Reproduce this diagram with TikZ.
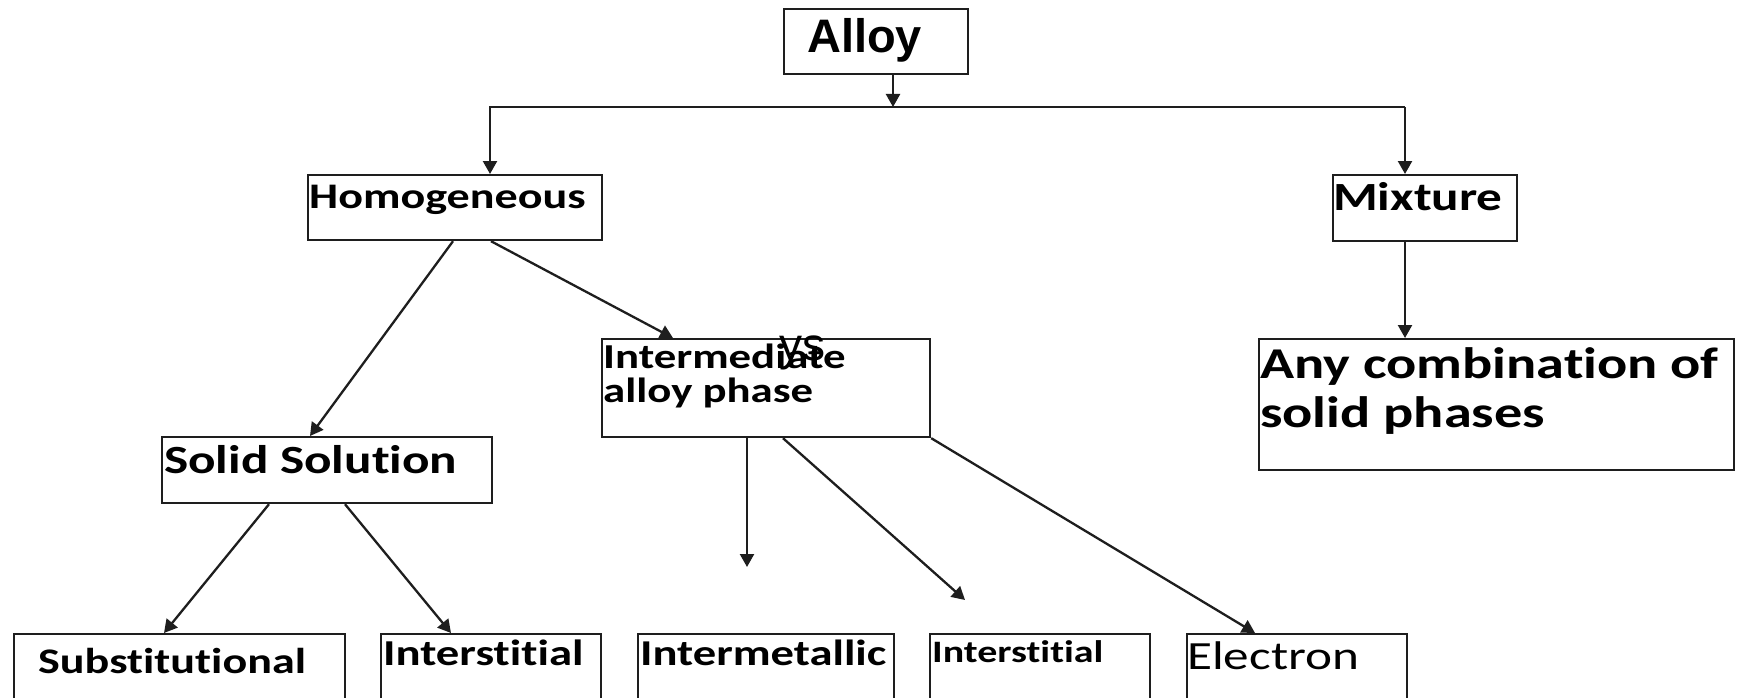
\documentclass[tikz,border=0pt]{standalone}
\usepackage{fontspec}
\usetikzlibrary{arrows.meta}
\newfontfamily\calfont[FakeStretch=1.28, Ligatures=NoCommon]{Carlito}
\newfontfamily\arialfont{Liberation Sans}
\definecolor{linec}{HTML}{1E1E1E}
\tikzset{
  box/.style={draw=linec, line width=2.2pt, fill=white, inner sep=0pt, anchor=north west},
  lbl/.style={inner sep=0pt, anchor=base west, text=black},
  arr/.style={draw=linec, line width=2.3pt, -{Triangle[length=13pt,width=14pt]}},
  fsz/.style={font=\calfont\fontsize{#1}{#1}\selectfont},
  fszb/.style={font=\calfont\bfseries\fontsize{#1}{#1}\selectfont}
}
\begin{document}
\begin{tikzpicture}[x=1pt,y=-1pt]
\useasboundingbox (0,0) rectangle (1750,698);
\clip (0,0) rectangle (1750,698);
\fill[white] (0,0) rectangle (1750,698);

% boxes
\node[box, minimum width=184pt, minimum height=65pt] (alloy) at (783,8) {};
\node[box, minimum width=294pt, minimum height=65pt] (hom) at (307,174) {};
\node[box, minimum width=184pt, minimum height=66pt] (mix) at (1332,174) {};
\node[box, minimum width=475pt, minimum height=131pt] (any) at (1258,338) {};
\node[box, minimum width=328pt, minimum height=98pt] (inter) at (601,338) {};
\node[box, minimum width=330pt, minimum height=66pt] (solid) at (161,436) {};
\node[box, minimum width=331pt, minimum height=90pt] (subs) at (13,633) {};
\node[box, minimum width=220pt, minimum height=90pt] (inst1) at (380,633) {};
\node[box, minimum width=256pt, minimum height=90pt] (imet) at (637,633) {};
\node[box, minimum width=220pt, minimum height=90pt] (inst2) at (929,633) {};
\node[box, minimum width=220pt, minimum height=90pt] (elec) at (1186,633) {};

% labels
\node[lbl, font=\arialfont\bfseries\fontsize{47}{47}\selectfont] (alloyt) at (807,53) {Alloy};
\node[lbl, fszb=36] (homt) at (309,208) {Homogeneous};
\node[lbl, fszb=40] (mixt) at (1333,210) {Mixture};
\node[lbl, fszb=44] (anyt1) at (1260,378) {Any combination of};
\node[lbl, fszb=44] (anyt2) at (1260,427) {solid phases};
\node[lbl, fszb=35] (intert1) at (603,368) {Intermediate};
\node[lbl, fszb=35] (intert2) at (603,402) {alloy phase};
\node[lbl, font=\arialfont\fontsize{46}{46}\selectfont] (yst) at (779,360) {ys};
\node[lbl, fszb=40] (solidt) at (164,473) {Solid Solution};
\node[lbl, fszb=36] (subst) at (38,673) {Substitutional};
\node[lbl, fszb=36.5] (inst1t) at (383,665) {Interstitial};
\node[lbl, fszb=36.4] (imett) at (640,665) {Intermetallic};
\node[lbl, fszb=31.2] (inst2t) at (932,662) {Interstitial};
\node[lbl, fsz=40] (elect) at (1187,669) {Electron};

% bus below Alloy
\coordinate (busm) at (893,107);
\coordinate (busl) at (490,107);
\coordinate (busr) at (1405,107);
\draw[arr] (alloy.south -| busm) -- (busm);
\draw[arr] (busr) -- (busl) -- (busl |- hom.north);
\draw[arr] (busr) -- (busr |- mix.north);
\draw[arr] (mix.south -| busr) -- (any.north -| busr);

% homogeneous branch
\draw[arr] (hom.south -| 453,0) -- (solid.north -| 310,0);
\draw[arr] (hom.south -| 491,0) -- (inter.north -| 673,0);

% solid solution branch
\draw[arr] (solid.south -| 269,0) -- (subs.north -| 164,0);
\draw[arr] (solid.south -| 345,0) -- (inst1.north -| 451,0);

% intermediate phase branch
\coordinate (endA) at (747,567);
\coordinate (endB) at (965,600);
\draw[arr] (inter.south -| endA) -- (endA);
\draw[arr] (inter.south -| 783,0) -- (endB);
\draw[arr] (inter.south east) -- (elec.north -| 1255,0);
\end{tikzpicture}
\end{document}
